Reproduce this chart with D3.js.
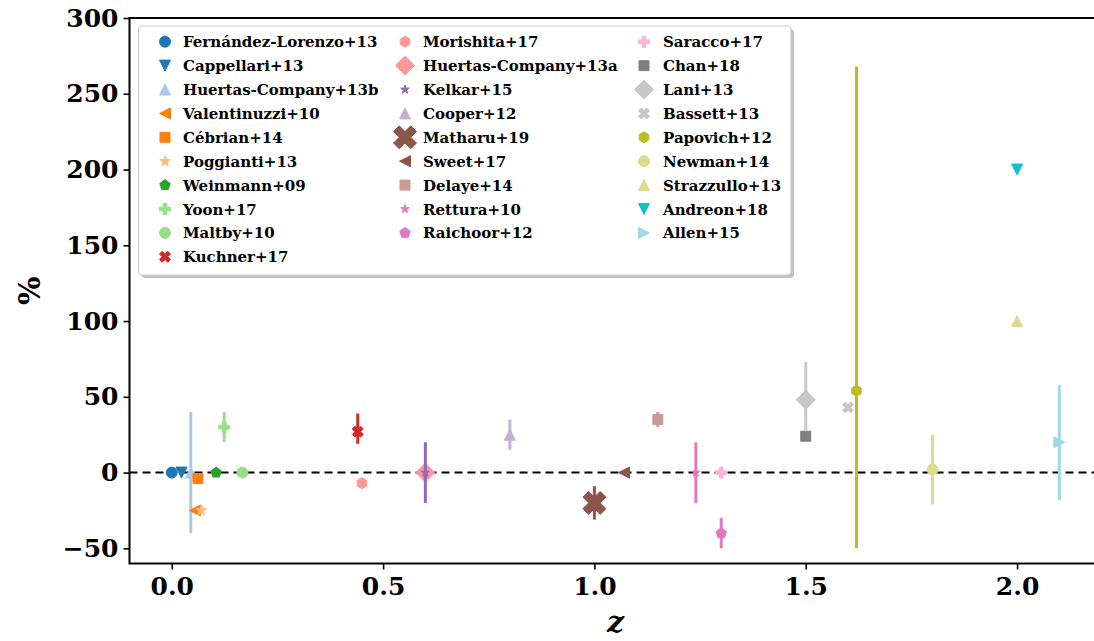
<html>
<head>
<meta charset="utf-8">
<style>
  body { margin: 0; background: white; }
  svg text { font-family: "DejaVu Serif", serif; font-weight: bold; }
</style>
</head>
<body>
<svg id="chart" width="1094" height="641"></svg>
<script src="https://d3js.org/d3.v7.min.js"></script>
<script>
// data, one entry per study
var names = ["Fernández-Lorenzo+13", "Cappellari+13", "Huertas-Company+13b", "Valentinuzzi+10",
  "Cébrian+14", "Poggianti+13", "Weinmann+09", "Yoon+17", "Maltby+10", "Kuchner+17",
  "Morishita+17", "Huertas-Company+13a", "Kelkar+15", "Cooper+12", "Matharu+19", "Sweet+17",
  "Delaye+14", "Rettura+10", "Raichoor+12",
  "Saracco+17", "Chan+18", "Lani+13", "Bassett+13", "Papovich+12", "Newman+14",
  "Strazzullo+13", "Andreon+18", "Allen+15"];
var zVals = [0.0, 0.023, 0.045, 0.055, 0.062, 0.07, 0.105, 0.124, 0.167, 0.44,
  0.45, 0.6, 0.6, 0.8, 1.0, 1.07, 1.15, 1.24, 1.30,
  1.30, 1.5, 1.5, 1.6, 1.62, 1.8, 2.0, 2.0, 2.1];
var pctVals = [0, 0, 0, -25, -4, -25, 0, 30, 0, 27,
  -7, 0, 0, 25, -20, 0, 35, 0, -40,
  0, 24, 48, 43, 54, 2, 100, 200, 20];
var errLo = [0, 0, 40, 0, 0, 0, 0, 10, 0, 8,
  0, 0, 20, 10, 11, 0, 5, 20, 10,
  0, 0, 20, 0, 104, 23, 0, 0, 38];
var errHi = [0, 0, 40, 0, 0, 0, 0, 10, 0, 12,
  0, 0, 20, 10, 11, 0, 5, 20, 10,
  0, 0, 25, 0, 214, 23, 0, 0, 38];
var xTicks = [0, 0.5, 1.0, 1.5, 2.0];
var yTicks = [-50, 0, 50, 100, 150, 200, 250, 300];

// styles
var colors = ["#1f77b4", "#1f77b4", "#aec7e8", "#ff7f0e", "#ff7f0e", "#ffbb78", "#2ca02c", "#98df8a", "#98df8a", "#d62728",
  "#ff9896", "#ff9896", "#9467bd", "#c5b0d5", "#8c564b", "#8c564b", "#c49c94", "#e377c2", "#e377c2",
  "#f7b6d2", "#7f7f7f", "#c7c7c7", "#c7c7c7", "#bcbd22", "#dbdb8d", "#dbdb8d", "#17becf", "#9edae5"];
var shapes = ["o", "v", "^", "<", "s", "*", "p", "P", "o", "X",
  "h", "D", "*", "^", "X", "<", "s", "*", "p",
  "P", "s", "D", "X", "h", "o", "^", "v", ">"];
var sizes = [11, 11, 11, 11, 10, 11, 11, 11, 11, 11,
  11, 19, 9, 11, 23, 11, 10, 9, 11,
  11, 10, 19, 11, 11, 11, 11, 11, 11];

var svg = d3.select("#chart");

var x = d3.scaleLinear().domain([-0.1, 2.2]).range([129.5, 1101.6]);
var y = d3.scaleLinear().domain([-60, 300]).range([563.5, 18]);

function poly(pts) {
  return "M" + pts.map(function(p) { return p[0].toFixed(2) + "," + p[1].toFixed(2); }).join("L") + "Z";
}

function regular(n, r, rot) {
  var pts = [];
  for (var k = 0; k < n; k++) {
    var a = rot + k * 2 * Math.PI / n;
    pts.push([r * Math.sin(a), -r * Math.cos(a)]);
  }
  return pts;
}

// matplotlib-like marker shapes, s = marker size in px
function markerPath(type, s) {
  var h = s / 2;
  if (type == "o") {
    var p = d3.path();
    p.arc(0, 0, h, 0, 2 * Math.PI);
    p.closePath();
    return p.toString();
  }
  if (type == "s") return poly([[-h, -h], [h, -h], [h, h], [-h, h]]);
  if (type == "^") return poly([[0, -h], [h, h], [-h, h]]);
  if (type == "v") return poly([[0, h], [h, -h], [-h, -h]]);
  if (type == "<") return poly([[-h, 0], [h, -h], [h, h]]);
  if (type == ">") return poly([[h, 0], [-h, -h], [-h, h]]);
  if (type == "D") return poly([[0, -h], [h, 0], [0, h], [-h, 0]]);
  if (type == "p") return poly(regular(5, h, 0));
  if (type == "h") return poly(regular(6, h, 0));
  if (type == "*") {
    var pts = [];
    for (var k = 0; k < 10; k++) {
      var r = (k % 2 == 0) ? h : h * 0.381966;
      var a = k * Math.PI / 5;
      pts.push([r * Math.sin(a), -r * Math.cos(a)]);
    }
    return poly(pts);
  }
  if (type == "P") {
    var u = s / 6;
    return poly([[-u, -3 * u], [u, -3 * u], [u, -u], [3 * u, -u], [3 * u, u], [u, u],
      [u, 3 * u], [-u, 3 * u], [-u, u], [-3 * u, u], [-3 * u, -u], [-u, -u]]);
  }
  if (type == "X") {
    var v = [[-0.25, -0.5], [0, -0.25], [0.25, -0.5], [0.5, -0.25], [0.25, 0], [0.5, 0.25],
      [0.25, 0.5], [0, 0.25], [-0.25, 0.5], [-0.5, 0.25], [-0.25, 0], [-0.5, -0.25]];
    return poly(v.map(function(q) { return [q[0] * s, q[1] * s]; }));
  }
}

// zero line
svg.append("line")
  .attr("x1", x(-0.1)).attr("x2", x(2.2))
  .attr("y1", y(0)).attr("y2", y(0))
  .attr("stroke", "black")
  .attr("stroke-width", 2)
  .attr("stroke-dasharray", "8,5");

// error bars + markers, in plotting order
for (var i = 0; i < names.length; i++) {
  var g = svg.append("g");
  if (errLo[i] > 0 || errHi[i] > 0) {
    g.append("line")
      .attr("x1", x(zVals[i])).attr("x2", x(zVals[i]))
      .attr("y1", y(pctVals[i] - errLo[i])).attr("y2", y(pctVals[i] + errHi[i]))
      .attr("stroke", colors[i])
      .attr("stroke-width", 3);
  }
  g.append("path")
    .attr("d", markerPath(shapes[i], sizes[i]))
    .attr("transform", "translate(" + x(zVals[i]) + "," + y(pctVals[i]) + ")")
    .attr("fill", colors[i])
    .attr("stroke", colors[i])
    .attr("stroke-width", 1)
    .attr("stroke-linejoin", "miter");
}

// axes
var xAxis = svg.append("g")
  .attr("transform", "translate(0," + y(-60) + ")")
  .call(d3.axisBottom(x).tickValues(xTicks).tickFormat(d3.format(".1f")).tickSize(6).tickPadding(8));
var yAxis = svg.append("g")
  .attr("transform", "translate(" + x(-0.1) + ",0)")
  .call(d3.axisLeft(y).tickValues(yTicks).tickSize(6).tickPadding(5));

[xAxis, yAxis].forEach(function(a) {
  a.select(".domain").remove();
  a.selectAll(".tick line").attr("stroke", "black").attr("stroke-width", 1.6);
  a.selectAll(".tick text")
    .attr("fill", "black")
    .style("font-family", "'DejaVu Serif', serif")
    .style("font-weight", "bold")
    .style("font-size", "25px");
});

// spines: left, top, bottom (right lies outside the picture)
svg.append("path")
  .attr("d", "M" + x(2.2) + "," + y(300) + "H" + x(-0.1) + "V" + y(-60) + "H" + x(2.2))
  .attr("fill", "none")
  .attr("stroke", "black")
  .attr("stroke-width", 2);

// axis labels
svg.append("text")
  .attr("transform", "translate(40," + ((y(300) + y(-60)) / 2) + ") rotate(-90)")
  .attr("text-anchor", "middle")
  .style("font-size", "30px")
  .text("%");

svg.append("text")
  .attr("x", (x(-0.1) + x(2.2)) / 2)
  .attr("y", 632)
  .attr("text-anchor", "middle")
  .style("font-size", "30px")
  .style("font-style", "italic")
  .text("z");

// legend
var lg = svg.append("g");
lg.append("rect")
  .attr("x", 141.5).attr("y", 29)
  .attr("width", 652.5).attr("height", 249)
  .attr("rx", 4)
  .attr("fill", "#888")
  .attr("opacity", 0.5);
lg.append("rect")
  .attr("x", 138.5).attr("y", 26)
  .attr("width", 652.5).attr("height", 249)
  .attr("rx", 4)
  .attr("fill", "white")
  .attr("stroke", "#cccccc")
  .attr("stroke-width", 1.2);

var colMarkX = [165, 405, 644];
var colTextX = [183, 423, 663];
var perCol = [10, 9, 9];
var idx = 0;
for (var c = 0; c < 3; c++) {
  for (var r = 0; r < perCol[c]; r++) {
    var yy = 41.7 + r * 23.9;
    lg.append("path")
      .attr("d", markerPath(shapes[idx], sizes[idx]))
      .attr("transform", "translate(" + colMarkX[c] + "," + yy + ")")
      .attr("fill", colors[idx])
      .attr("stroke", colors[idx])
      .attr("stroke-width", 1);
    lg.append("text")
      .attr("x", colTextX[c])
      .attr("y", yy + 5.5)
      .style("font-size", "15px")
      .text(names[idx]);
    idx++;
  }
}
</script>
</body>
</html>
